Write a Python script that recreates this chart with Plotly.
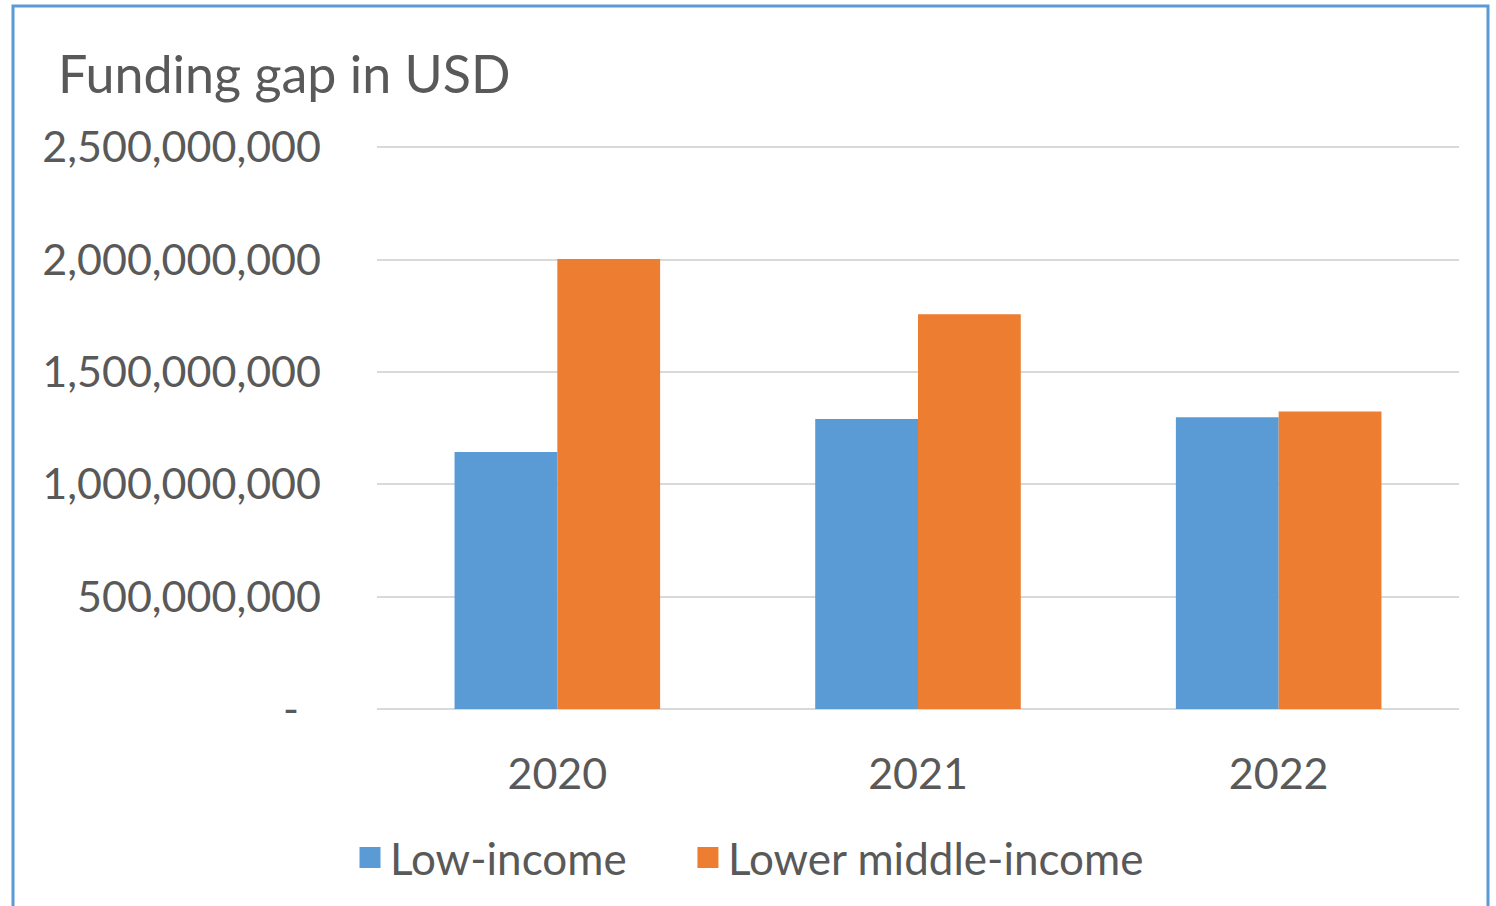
import plotly.graph_objects as go

years = ["2020", "2021", "2022"]
low_income = [1.143e9, 1.290e9, 1.298e9]
lower_middle_income = [2.002e9, 1.756e9, 1.324e9]
series_names = ["Low-income", "Lower middle-income"]
colors = ["#5B9BD5", "#ED7D31"]
tick_vals = [0, 0.5e9, 1.0e9, 1.5e9, 2.0e9, 2.5e9]
tick_text = ["-\u00a0\u00a0", "500,000,000", "1,000,000,000", "1,500,000,000",
             "2,000,000,000", "2,500,000,000"]

FONT = "Lato"
TXT = "#595959"

fig = go.Figure()
for i, (name, vals, c) in enumerate(zip(series_names, [low_income, lower_middle_income], colors)):
    fig.add_trace(go.Bar(x=years, y=vals, name=name, marker=dict(color=c, line=dict(width=0)),
                         showlegend=False))
    label = name + ("\u00a0" * 5 if i == 0 else "")
    fig.add_trace(go.Scatter(x=[None], y=[None], mode="markers", name=label,
                             marker=dict(symbol="square", size=16, color=c,
                                         line=dict(color=c, width=5))))

W, H = 1496, 906
L, R, T, B = 377, 37, 146, 197
YTOP = 2.505e9
fig.update_layout(
    width=W, height=H,
    margin=dict(l=L, r=R, t=T, b=B),
    paper_bgcolor="white", plot_bgcolor="white",
    font=dict(family=FONT, color=TXT, size=43),
    barmode="group", bargap=0.43, bargroupgap=0,
    title=dict(text="Funding gap in USD", x=58 / W, xanchor="left", xref="container",
               y=1 - 75 / H, yanchor="middle", yref="container",
               font=dict(size=52, color=TXT, family=FONT)),
    legend=dict(orientation="h", x=350 / W, xanchor="left", xref="container",
                y=1 - 858 / H, yanchor="middle", yref="container",
                bgcolor="rgba(0,0,0,0)",
                font=dict(size=44, color=TXT), itemwidth=30, traceorder="normal"),
    xaxis=dict(showgrid=False, showline=False, ticks="", tickfont=dict(size=43, color=TXT),
               ticklabelstandoff=36),
    yaxis=dict(range=[0, YTOP], tickvals=tick_vals, ticktext=tick_text,
               showgrid=True, gridcolor="#D9D9D9", gridwidth=2, zeroline=True,
               zerolinecolor="#D9D9D9", zerolinewidth=2, showline=False, ticks="",
               tickfont=dict(size=43, color=TXT), ticklabelstandoff=55),
)

pw = W - L - R
ph = H - T - B
fig.add_shape(type="rect", xref="paper", yref="paper",
              x0=(13 - L) / pw, x1=(1488 - L) / pw,
              y0=1 - (930 - T) / ph, y1=1 - (6 - T) / ph,
              line=dict(color="#5B9BD5", width=3), fillcolor="rgba(0,0,0,0)", layer="above")

fig.write_html("out.html")
